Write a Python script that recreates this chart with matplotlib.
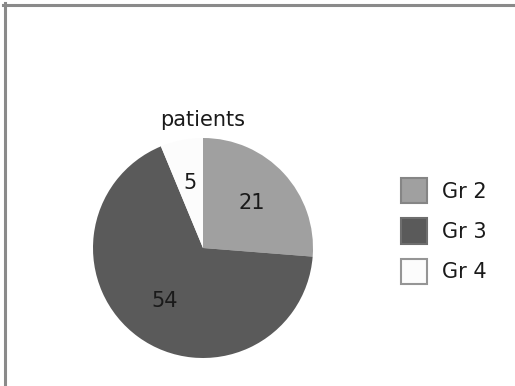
import matplotlib.pyplot as plt
from matplotlib.patches import Patch
from matplotlib.lines import Line2D

groups = ['Gr 2', 'Gr 3', 'Gr 4']
patients = [21, 54, 5]
colors = ['#a0a0a0', '#5a5a5a', '#fcfcfc']
edge_colors = ['#858585', '#6e6e6e', '#959595']

W, H = 515, 386
fig = plt.figure(figsize=(W / 100, H / 100), dpi=100)
plt.rcParams['font.family'] = ['DejaVu Sans']

# grey frame (only top and left edges are visible)
fig.add_artist(Line2D([3 / W, 1], [1 - 4.5 / H, 1 - 4.5 / H], color='#8a8a8a', lw=2.2))
fig.add_artist(Line2D([4.5 / W, 4.5 / W], [1 - 3 / H, 0], color='#8a8a8a', lw=2.2))

# pie, centre about (203, 248) px, radius 110 px
ax = fig.add_axes([93 / W, (H - 358) / H, 220 / W, 220 / H])
ax.pie(patients, colors=colors, labels=[str(v) for v in patients],
       startangle=90, counterclock=False, labeldistance=0.6,
       textprops={'fontsize': 15, 'color': '#1a1a1a', 'ha': 'center', 'va': 'center'},
       wedgeprops={'linewidth': 0})
ax.set_xlim(-1, 1)
ax.set_ylim(-1, 1)
ax.set_aspect('equal')
ax.axis('off')
ax.text(0, 1.16, 'patients', ha='center', va='center', fontsize=15,
        color='#1a1a1a', clip_on=False)

handles = [Patch(facecolor=c, edgecolor=e, linewidth=1.5) for c, e in zip(colors, edge_colors)]
fig.legend(handles, groups, loc='center left', bbox_to_anchor=(401 / W, (H - 231) / H),
           frameon=False, fontsize=15, handlelength=1.25, handleheight=1.48,
           labelspacing=0.72, handletextpad=0.72, borderpad=0, borderaxespad=0,
           labelcolor='#1a1a1a')

fig.savefig('out.png', dpi=100, facecolor='white')
